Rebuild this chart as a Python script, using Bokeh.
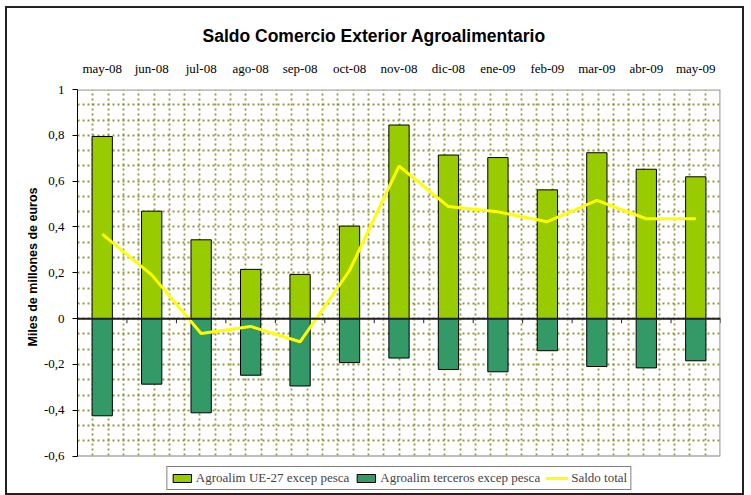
import numpy as np
from bokeh.plotting import figure
from bokeh.models import (Range1d, LinearAxis, FixedTicker, Grid, Title,
                          Legend, LegendItem, Span, ColumnDataSource)
from bokeh.embed import file_html
from bokeh.resources import INLINE

months = ["may-08", "jun-08", "jul-08", "ago-08", "sep-08", "oct-08", "nov-08",
          "dic-08", "ene-09", "feb-09", "mar-09", "abr-09", "may-09"]
ue27 = [0.795, 0.469, 0.344, 0.215, 0.193, 0.404, 0.845, 0.714, 0.703, 0.562, 0.724, 0.652, 0.619]
terceros = [-0.424, -0.286, -0.411, -0.247, -0.294, -0.192, -0.172, -0.222, -0.232, -0.140, -0.209, -0.215, -0.184]
saldo = [0.369, 0.191, -0.065, -0.034, -0.101, 0.210, 0.666, 0.489, 0.466, 0.423, 0.516, 0.436, 0.436]
y_ticks = [-0.6, -0.4, -0.2, 0, 0.2, 0.4, 0.6, 0.8, 1]
y_tick_labels = ["-0,6", "-0,4", "-0,2", "0", "0,2", "0,4", "0,6", "0,8", "1"]

title_text = "Saldo Comercio Exterior Agroalimentario"
y_label = "Miles de millones de euros"
series_names = ["Agroalim UE-27 excep pesca", "Agroalim terceros excep pesca", "Saldo total"]

SANS = "Liberation Sans"
SERIF = "Liberation Serif"

n = len(months)
xc = [i + 0.5 for i in range(n)]
src = ColumnDataSource(dict(x=xc, month=months, ue=ue27, ter=terceros, saldo=saldo, zero=[0] * n))

# layout (canvas pixels)
W, H = 735, 485
MB_L, MB_R, MB_T, MB_B = 70, 26, 81, 2
Y_MIN, Y_MAX = y_ticks[0], y_ticks[-1]
PX_PER_UNIT = 363 / (Y_MAX - Y_MIN)          # plot area height of the value axis
frame_h = H - MB_T - MB_B
y_low = Y_MAX - frame_h / PX_PER_UNIT        # extra room below for the legend

p = figure(width=W + 4, height=H + 4, x_range=Range1d(0, n), y_range=Range1d(y_low, Y_MAX),
           x_axis_type=None, y_axis_type=None, output_backend="svg", toolbar_location=None)
p.min_border_left = MB_L
p.min_border_right = MB_R
p.min_border_top = MB_T
p.min_border_bottom = MB_B
p.outline_line_color = None
p.background_fill_color = "white"
p.border_fill_color = "white"
p.styles = {"border": "2px solid #222222", "margin-left": "5px", "margin-top": "6px"}

p.title.text = title_text
p.title.align = "left"
p.title.offset = 125
p.title.text_font = SANS
p.title.text_font_style = "bold"
p.title.text_font_size = "17.5px"
p.title.text_color = "black"
p.title.standoff = 24

# left axis
yax = LinearAxis(ticker=FixedTicker(ticks=y_ticks), bounds=(Y_MIN, Y_MAX),
                 major_label_overrides={v: s for v, s in zip(y_ticks, y_tick_labels)})
yax.axis_line_color = "black"
yax.axis_line_width = 1
yax.major_tick_out = 5
yax.major_tick_in = 0
yax.minor_tick_line_color = None
yax.major_label_standoff = 8
yax.major_label_text_font = SERIF
yax.major_label_text_font_size = "13px"
yax.major_label_text_color = "black"
p.add_layout(yax, "left")
p.add_layout(Title(text=y_label, align="left", offset=149, standoff=1, text_font=SANS,
                   text_font_style="bold", text_font_size="12.5px", text_color="black"), "left")

# top category axis
xax = LinearAxis(ticker=FixedTicker(ticks=xc),
                 major_label_overrides={x: m for x, m in zip(xc, months)})
xax.axis_line_color = None
xax.major_tick_line_color = None
xax.minor_tick_line_color = None
xax.major_label_standoff = 8
xax.major_label_text_font = SERIF
xax.major_label_text_font_size = "13px"
xax.major_label_text_color = "black"
p.add_layout(xax, "above")

# dotted grids
n_vgrid = 42
vgrid = list(np.arange(1, n_vgrid) * n / n_vgrid)
hgrid = list(np.arange(Y_MIN + 1 / 15, Y_MAX - 1e-6, 1 / 15))
p.add_layout(Grid(dimension=0, ticker=FixedTicker(ticks=vgrid)))
p.add_layout(Grid(dimension=1, ticker=FixedTicker(ticks=hgrid)))
for g in p.grid:
    g.grid_line_color = "#8f8f3a"
    g.grid_line_width = 1.8
    g.grid_line_dash = "2 3"
    g.grid_line_alpha = 0.95

# white area under the value axis (legend zone)
p.quad(left=[0], right=[n], top=[Y_MIN], bottom=[y_low], fill_color="white", line_color=None)
# plot-area border (gray)
p.segment(x0=[0, n, 0], x1=[n, n, n], y0=[Y_MAX, Y_MIN, Y_MIN], y1=[Y_MAX, Y_MAX, Y_MIN],
          line_color="#a8a8a8", line_width=[2.5, 2.5, 1.5])

r1 = p.vbar(x="x", top="ue", bottom="zero", width=0.41, source=src,
            fill_color="#99cc00", line_color="black", line_width=1)
r2 = p.vbar(x="x", top="zero", bottom="ter", width=0.41, source=src,
            fill_color="#339966", line_color="black", line_width=1)

# zero axis line with ticks at category boundaries
p.add_layout(Span(location=0, dimension="width", line_color="#222222", line_width=2))
bounds = list(range(1, n + 1))
p.segment(x0=bounds, x1=bounds, y0=[0] * len(bounds), y1=[-0.02] * len(bounds),
          line_color="#222222", line_width=1)

r3 = p.line(x="x", y="saldo", source=src, line_color="#ffff00", line_width=3)

legend = Legend(items=[LegendItem(label=series_names[0], renderers=[r1]),
                       LegendItem(label=series_names[1], renderers=[r2]),
                       LegendItem(label=series_names[2], renderers=[r3])],
                orientation="horizontal", location="bottom_center")
legend.label_text_font = SERIF
legend.label_text_font_size = "13px"
legend.label_height = 14
legend.glyph_height = 10
legend.glyph_width = 23
legend.label_standoff = 3
legend.spacing = 5
legend.padding = 3
legend.margin = 5
legend.border_line_color = "black"
legend.border_line_width = 1
legend.background_fill_alpha = 1
p.add_layout(legend, "center")

open("out.html", "w").write(file_html(p, INLINE))
